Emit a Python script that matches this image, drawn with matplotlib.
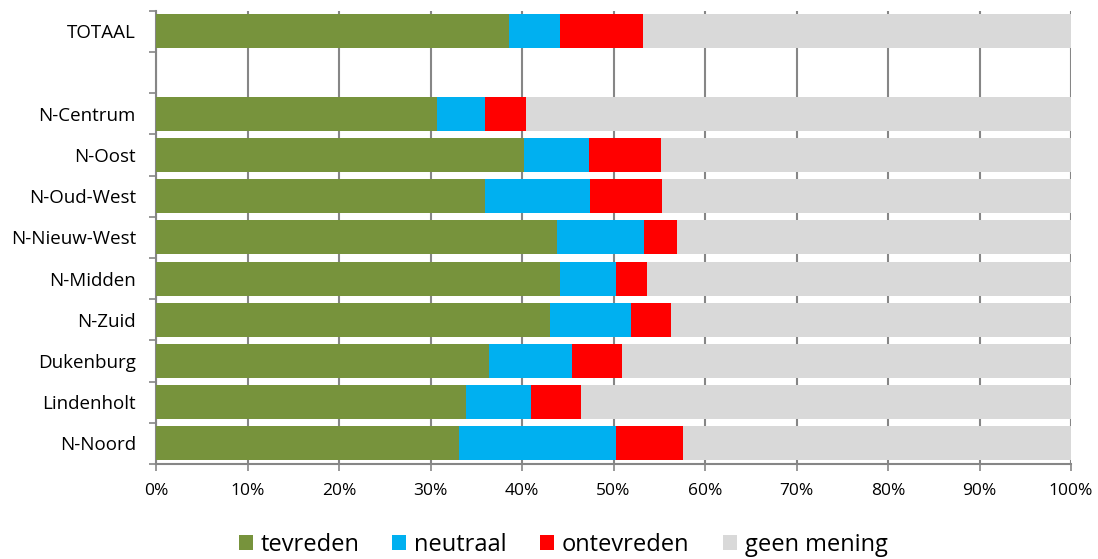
import matplotlib
matplotlib.use("Agg")
import matplotlib.pyplot as plt
import numpy as np

categories = ["TOTAAL", "", "N-Centrum", "N-Oost", "N-Oud-West", "N-Nieuw-West",
              "N-Midden", "N-Zuid", "Dukenburg", "Lindenholt", "N-Noord"]
series_names = ["tevreden", "neutraal", "ontevreden", "geen mening"]
tevreden   = [38.6, 0, 30.7, 40.2, 36.0, 43.8, 44.2, 43.1, 36.4, 33.9, 33.1]
neutraal   = [5.6, 0, 5.3, 7.1, 11.4, 9.5, 6.1, 8.8, 9.1, 7.1, 17.2]
ontevreden = [9.0, 0, 4.4, 7.9, 7.9, 3.6, 3.4, 4.4, 5.4, 5.5, 7.3]
geen_mening = [46.8, 0, 59.6, 44.8, 44.7, 43.1, 46.3, 43.7, 49.1, 53.5, 42.4]
colors = ["#77933C", "#00B0F0", "#FF0000", "#D9D9D9"]
xtick_labels = ["0%", "10%", "20%", "30%", "40%", "50%", "60%", "70%", "80%", "90%", "100%"]

plt.rcParams['font.family'] = ['Open Sans', 'DejaVu Sans']

fig = plt.figure(figsize=(10.98, 5.59), dpi=100)
ax = fig.add_axes([156/1098, 1-464/559, (1071-156)/1098, (464-10.7)/559])

y = np.arange(len(categories))
left = np.zeros(len(categories))
for name, vals, c in zip(series_names, [tevreden, neutraal, ontevreden, geen_mening], colors):
    vals = np.array(vals)
    ax.barh(y, vals, left=left, height=0.825, color=c, label=name, zorder=3)
    left += vals

ax.set_xlim(0, 100)
ax.set_ylim(len(categories) - 0.5, -0.5)
ax.set_xticks(np.arange(0, 101, 10))
ax.set_xticklabels(xtick_labels, fontsize=12.5)
ax.set_yticks(y)
ax.set_yticklabels(categories, fontsize=13.5)
ax.tick_params(axis='y', length=0, pad=14.4)
ax.set_yticks(np.arange(-0.5, len(categories), 1), minor=True)
ax.tick_params(axis='y', which='minor', length=5, color='#868686', width=1.2)
ax.tick_params(axis='x', length=5, color='#868686', width=1.2, pad=8.5)

ax.grid(axis='x', color='#868686', linewidth=1.5, zorder=0)
for s in ['top', 'right']:
    ax.spines[s].set_visible(False)
for s in ['left', 'bottom']:
    ax.spines[s].set_color('#868686')
    ax.spines[s].set_linewidth(1.5)

fs = 17
px = fs * 100 / 72
handles, labels = ax.get_legend_handles_labels()
fig.legend(handles, labels, loc='center', bbox_to_anchor=(563/1098, 1-545/559),
           ncol=4, frameon=False, fontsize=fs, handlelength=14/px, handleheight=14/px,
           handletextpad=8/px, columnspacing=33/px)

fig.savefig("out.png", dpi=100)
